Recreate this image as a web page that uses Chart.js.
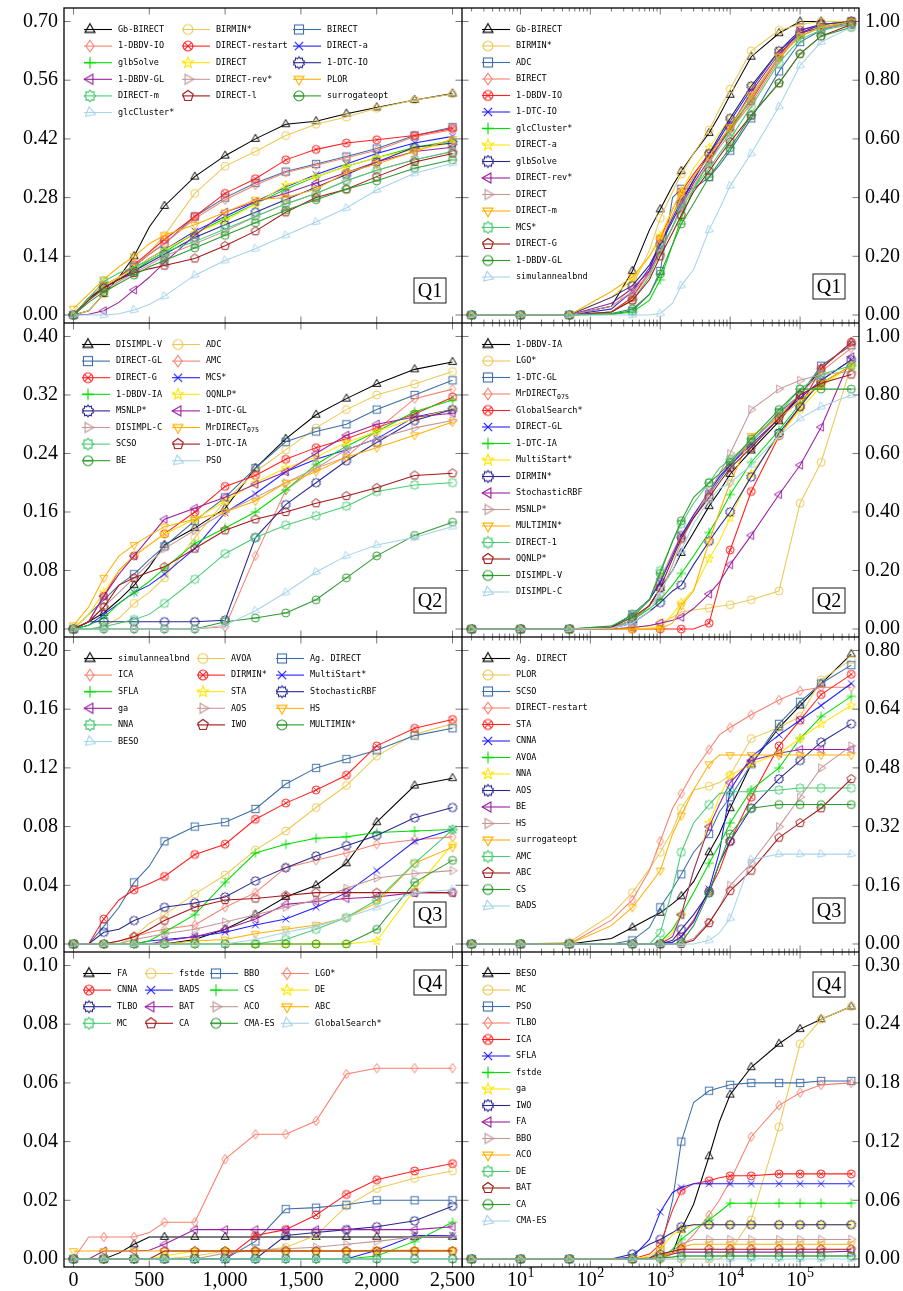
<!DOCTYPE html>
<html>
<head>
<meta charset="utf-8">
<script src="https://cdn.jsdelivr.net/npm/chart.js@4.4.1/dist/chart.umd.min.js"></script>
<style>
  html, body { margin: 0; padding: 0; background: #fff; }
  #page { position: relative; width: 903px; height: 1291px; overflow: hidden; }
  .panel { position: absolute; }
</style>
</head>
<body>
<div id="page"></div>
<script>
// shared x grids (left: linear budget, right: log budget)
const XL = [0, 100, 200, 300, 400, 500, 600, 800, 1000, 1200, 1400, 1600, 1800, 2000, 2250, 2500];
const XR = [2, 10, 50, 200, 400, 700, 1000, 1500, 2000, 3000, 5000, 7000, 10000, 20000, 50000, 100000, 200000, 540000];
const XL_TICKS = [0, 500, 1000, 1500, 2000, 2500];
const XR_EXPONENTS = [1, 2, 3, 4, 5];

const Q1L_TICKS = [0, 0.14, 0.28, 0.42, 0.56, 0.70];
const Q1R_TICKS = [0, 0.2, 0.4, 0.6, 0.8, 1.0];
const Q2L_TICKS = [0, 0.08, 0.16, 0.24, 0.32, 0.40];
const Q2R_TICKS = [0, 0.2, 0.4, 0.6, 0.8, 1.0];
const Q3L_TICKS = [0, 0.04, 0.08, 0.12, 0.16, 0.20];
const Q3R_TICKS = [0, 0.16, 0.32, 0.48, 0.64, 0.80];
const Q4L_TICKS = [0, 0.02, 0.04, 0.06, 0.08, 0.10];
const Q4R_TICKS = [0, 0.06, 0.12, 0.18, 0.24, 0.30];

// ---- Q1 ----
const Q1L_NAMES = ['Gb-BIRECT', 'BIRMIN*', 'BIRECT', '1-DBDV-IO', 'DIRECT-restart', 'DIRECT-a', 'glbSolve', 'DIRECT',
  '1-DTC-IO', '1-DBDV-GL', 'DIRECT-rev*', 'PLOR', 'DIRECT-m', 'DIRECT-l', 'surrogateopt', 'glcCluster*'];
const Q1L_Y = [
  [0, 0.01, 0.05, 0.09, 0.14, 0.21, 0.26, 0.33, 0.38, 0.42, 0.455, 0.462, 0.48, 0.495, 0.513, 0.528],
  [0, 0.01, 0.05, 0.08, 0.115, 0.15, 0.19, 0.29, 0.355, 0.39, 0.428, 0.455, 0.472, 0.493, 0.513, 0.527],
  [0, 0.04, 0.07, 0.09, 0.115, 0.145, 0.17, 0.235, 0.28, 0.315, 0.342, 0.36, 0.378, 0.397, 0.428, 0.448],
  [0, 0.04, 0.07, 0.09, 0.115, 0.145, 0.17, 0.23, 0.275, 0.31, 0.34, 0.357, 0.375, 0.393, 0.425, 0.442],
  [0, 0.04, 0.07, 0.09, 0.12, 0.15, 0.18, 0.235, 0.29, 0.325, 0.37, 0.395, 0.41, 0.418, 0.428, 0.445],
  [0, 0.04, 0.065, 0.085, 0.11, 0.135, 0.155, 0.2, 0.235, 0.27, 0.305, 0.335, 0.36, 0.385, 0.41, 0.426],
  [0, 0.04, 0.065, 0.085, 0.105, 0.13, 0.15, 0.195, 0.23, 0.265, 0.3, 0.33, 0.355, 0.375, 0.4, 0.415],
  [0, 0.04, 0.07, 0.09, 0.11, 0.135, 0.155, 0.195, 0.225, 0.265, 0.31, 0.33, 0.355, 0.375, 0.395, 0.41],
  [0, 0.04, 0.065, 0.085, 0.105, 0.125, 0.145, 0.185, 0.215, 0.245, 0.275, 0.305, 0.335, 0.365, 0.4, 0.41],
  [0, 0.002, 0.01, 0.03, 0.06, 0.09, 0.125, 0.19, 0.245, 0.27, 0.29, 0.315, 0.34, 0.365, 0.39, 0.4],
  [0, 0.035, 0.06, 0.08, 0.1, 0.12, 0.14, 0.17, 0.2, 0.235, 0.265, 0.29, 0.32, 0.345, 0.37, 0.39],
  [0.015, 0.05, 0.085, 0.115, 0.14, 0.17, 0.19, 0.215, 0.245, 0.275, 0.28, 0.3, 0.34, 0.36, 0.39, 0.42],
  [0, 0.04, 0.08, 0.1, 0.115, 0.13, 0.15, 0.175, 0.205, 0.235, 0.265, 0.29, 0.32, 0.345, 0.37, 0.39],
  [0, 0.035, 0.065, 0.085, 0.1, 0.11, 0.118, 0.135, 0.165, 0.2, 0.245, 0.28, 0.3, 0.33, 0.365, 0.385],
  [0, 0.03, 0.055, 0.075, 0.095, 0.115, 0.13, 0.16, 0.19, 0.22, 0.25, 0.275, 0.3, 0.32, 0.35, 0.37],
  [0, 0, 0, 0.003, 0.012, 0.025, 0.045, 0.095, 0.13, 0.158, 0.19, 0.222, 0.255, 0.298, 0.338, 0.362]
];
const Q1R_NAMES = ['Gb-BIRECT', 'BIRMIN*', 'ADC', 'BIRECT', '1-DBDV-IO', '1-DTC-IO', 'glcCluster*', 'DIRECT-a',
  'glbSolve', 'DIRECT-rev*', 'DIRECT', 'DIRECT-m', 'MCS*', 'DIRECT-G', '1-DBDV-GL', 'simulannealbnd'];
const Q1R_Y = [
  [0, 0, 0, 0.03, 0.15, 0.29, 0.36, 0.44, 0.49, 0.55, 0.62, 0.68, 0.75, 0.88, 0.96, 1, 1, 1],
  [0, 0, 0, 0.02, 0.1, 0.22, 0.33, 0.42, 0.48, 0.55, 0.63, 0.7, 0.77, 0.9, 0.97, 0.99, 1, 1],
  [0, 0, 0, 0.003, 0.014, 0.07, 0.15, 0.4, 0.43, 0.43, 0.47, 0.51, 0.56, 0.67, 0.83, 0.93, 0.97, 1],
  [0, 0, 0, 0.01, 0.06, 0.14, 0.24, 0.34, 0.41, 0.47, 0.54, 0.58, 0.63, 0.72, 0.87, 0.96, 0.99, 1],
  [0, 0, 0, 0.01, 0.06, 0.15, 0.26, 0.36, 0.42, 0.48, 0.55, 0.59, 0.64, 0.73, 0.88, 0.97, 0.99, 1],
  [0, 0, 0, 0.02, 0.08, 0.16, 0.24, 0.33, 0.39, 0.46, 0.55, 0.6, 0.66, 0.77, 0.9, 0.97, 0.99, 1],
  [0, 0, 0, 0.002, 0.01, 0.05, 0.12, 0.24, 0.33, 0.43, 0.52, 0.58, 0.63, 0.74, 0.88, 0.95, 0.98, 1],
  [0, 0, 0, 0.06, 0.12, 0.2, 0.27, 0.36, 0.42, 0.5, 0.57, 0.62, 0.67, 0.78, 0.9, 0.96, 0.99, 1],
  [0, 0, 0, 0.06, 0.1, 0.17, 0.24, 0.32, 0.38, 0.46, 0.55, 0.61, 0.67, 0.78, 0.9, 0.96, 0.99, 1],
  [0, 0, 0, 0.04, 0.09, 0.15, 0.22, 0.3, 0.37, 0.45, 0.53, 0.58, 0.64, 0.76, 0.89, 0.96, 0.98, 0.99],
  [0, 0, 0, 0.03, 0.08, 0.14, 0.21, 0.3, 0.37, 0.44, 0.52, 0.57, 0.62, 0.74, 0.88, 0.95, 0.98, 0.99],
  [0, 0, 0, 0.08, 0.13, 0.2, 0.26, 0.34, 0.4, 0.47, 0.54, 0.59, 0.64, 0.75, 0.88, 0.95, 0.98, 1],
  [0, 0, 0, 0.01, 0.05, 0.13, 0.22, 0.3, 0.36, 0.43, 0.5, 0.55, 0.6, 0.71, 0.86, 0.94, 0.97, 0.99],
  [0, 0, 0, 0.01, 0.05, 0.12, 0.2, 0.28, 0.34, 0.42, 0.49, 0.54, 0.59, 0.68, 0.79, 0.89, 0.95, 0.99],
  [0, 0, 0, 0.005, 0.02, 0.07, 0.14, 0.24, 0.31, 0.38, 0.47, 0.52, 0.57, 0.68, 0.79, 0.89, 0.95, 0.98],
  [0, 0, 0, 0, 0, 0, 0.005, 0.04, 0.1, 0.155, 0.29, 0.36, 0.44, 0.55, 0.71, 0.85, 0.93, 0.98]
];

// ---- Q2 ----
const Q2L_NAMES = ['DISIMPL-V', 'ADC', 'DIRECT-GL', 'AMC', 'DIRECT-G', 'MCS*', '1-DBDV-IA', 'OQNLP*',
  'MSNLP*', '1-DTC-GL', 'DISIMPL-C', 'MrDIRECT_075', 'SCSO', '1-DTC-IA', 'BE', 'PSO'];
const Q2L_Y = [
  [0, 0.01, 0.022, 0.04, 0.06, 0.085, 0.115, 0.138, 0.165, 0.22, 0.26, 0.293, 0.315, 0.335, 0.355, 0.365],
  [0, 0, 0.003, 0.015, 0.035, 0.05, 0.07, 0.125, 0.175, 0.215, 0.245, 0.275, 0.3, 0.32, 0.335, 0.352],
  [0, 0.02, 0.04, 0.06, 0.075, 0.095, 0.113, 0.148, 0.18, 0.22, 0.256, 0.27, 0.28, 0.3, 0.32, 0.34],
  [0, 0, 0, 0, 0, 0, 0, 0, 0.003, 0.1, 0.19, 0.22, 0.235, 0.272, 0.315, 0.328],
  [0, 0.01, 0.045, 0.08, 0.1, 0.115, 0.13, 0.16, 0.195, 0.21, 0.232, 0.248, 0.26, 0.275, 0.294, 0.317],
  [0, 0.005, 0.02, 0.035, 0.05, 0.06, 0.075, 0.11, 0.159, 0.185, 0.215, 0.232, 0.245, 0.26, 0.29, 0.3],
  [0, 0.005, 0.015, 0.035, 0.05, 0.065, 0.083, 0.117, 0.138, 0.16, 0.19, 0.225, 0.25, 0.27, 0.297, 0.313],
  [0, 0.02, 0.05, 0.08, 0.1, 0.115, 0.13, 0.15, 0.175, 0.2, 0.22, 0.235, 0.255, 0.27, 0.288, 0.3],
  [0, 0.01, 0.01, 0.01, 0.01, 0.01, 0.01, 0.01, 0.012, 0.125, 0.17, 0.2, 0.23, 0.255, 0.285, 0.3],
  [0, 0.01, 0.045, 0.075, 0.1, 0.125, 0.15, 0.165, 0.18, 0.198, 0.215, 0.24, 0.265, 0.28, 0.29, 0.295],
  [0, 0.01, 0.03, 0.05, 0.07, 0.09, 0.11, 0.135, 0.16, 0.18, 0.2, 0.22, 0.245, 0.26, 0.275, 0.285],
  [0.005, 0.03, 0.07, 0.1, 0.115, 0.128, 0.14, 0.15, 0.16, 0.175, 0.2, 0.215, 0.235, 0.248, 0.265, 0.283],
  [0, 0, 0.003, 0.008, 0.013, 0.02, 0.035, 0.068, 0.103, 0.125, 0.142, 0.155, 0.168, 0.188, 0.197, 0.2],
  [0, 0.01, 0.03, 0.06, 0.07, 0.078, 0.085, 0.11, 0.135, 0.15, 0.16, 0.172, 0.182, 0.193, 0.21, 0.213],
  [0, 0, 0, 0, 0, 0, 0, 0, 0.01, 0.015, 0.022, 0.04, 0.07, 0.1, 0.128, 0.146],
  [0, 0, 0, 0, 0, 0, 0, 0, 0.005, 0.025, 0.05, 0.078, 0.1, 0.115, 0.125, 0.14]
];
const Q2R_NAMES = ['1-DBDV-IA', 'LGO*', '1-DTC-GL', 'MrDIRECT_075', 'GlobalSearch*', 'DIRECT-GL', '1-DTC-IA', 'MultiStart*',
  'DIRMIN*', 'StochasticRBF', 'MSNLP*', 'MULTIMIN*', 'DIRECT-1', 'OQNLP*', 'DISIMPL-V', 'DISIMPL-C'];
const Q2R_Y = [
  [0, 0, 0, 0.003, 0.03, 0.08, 0.14, 0.2, 0.26, 0.33, 0.42, 0.47, 0.53, 0.61, 0.71, 0.8, 0.89, 0.98],
  [0, 0, 0, 0, 0.005, 0.01, 0.02, 0.04, 0.058, 0.065, 0.072, 0.078, 0.083, 0.1, 0.13, 0.43, 0.57, 0.9],
  [0, 0, 0, 0.005, 0.05, 0.1, 0.16, 0.26, 0.32, 0.38, 0.46, 0.51, 0.56, 0.64, 0.74, 0.8, 0.9, 0.97],
  [0, 0, 0, 0.005, 0.05, 0.1, 0.17, 0.26, 0.32, 0.39, 0.46, 0.52, 0.57, 0.64, 0.73, 0.8, 0.88, 0.96],
  [0, 0, 0, 0, 0, 0, 0, 0, 0, 0, 0.02, 0.15, 0.27, 0.47, 0.66, 0.76, 0.89, 0.98],
  [0, 0, 0, 0.005, 0.05, 0.1, 0.16, 0.25, 0.32, 0.39, 0.47, 0.52, 0.56, 0.63, 0.72, 0.79, 0.85, 0.92],
  [0, 0, 0, 0.003, 0.03, 0.07, 0.1, 0.15, 0.19, 0.25, 0.33, 0.39, 0.46, 0.57, 0.68, 0.77, 0.84, 0.9],
  [0, 0, 0, 0, 0, 0.003, 0.005, 0.05, 0.09, 0.135, 0.24, 0.3, 0.38, 0.53, 0.66, 0.75, 0.83, 0.9],
  [0, 0, 0, 0.003, 0.02, 0.06, 0.09, 0.13, 0.15, 0.22, 0.3, 0.35, 0.4, 0.52, 0.67, 0.76, 0.85, 0.92],
  [0, 0, 0, 0, 0.005, 0.012, 0.02, 0.03, 0.04, 0.07, 0.12, 0.16, 0.22, 0.32, 0.46, 0.56, 0.69, 0.93],
  [0, 0, 0, 0.003, 0.03, 0.08, 0.12, 0.22, 0.3, 0.38, 0.47, 0.53, 0.6, 0.75, 0.82, 0.85, 0.87, 0.88],
  [0, 0, 0, 0, 0, 0, 0.002, 0.02, 0.08, 0.13, 0.3, 0.4, 0.5, 0.66, 0.72, 0.78, 0.84, 0.9],
  [0, 0, 0, 0.01, 0.05, 0.1, 0.2, 0.3, 0.36, 0.43, 0.5, 0.55, 0.58, 0.64, 0.74, 0.82, 0.87, 0.9],
  [0, 0, 0, 0.005, 0.04, 0.08, 0.14, 0.24, 0.31, 0.38, 0.45, 0.5, 0.55, 0.62, 0.72, 0.8, 0.84, 0.87],
  [0, 0, 0, 0.01, 0.04, 0.1, 0.19, 0.3, 0.37, 0.45, 0.5, 0.53, 0.57, 0.65, 0.75, 0.82, 0.82, 0.82],
  [0, 0, 0, 0.003, 0.02, 0.06, 0.13, 0.2, 0.27, 0.36, 0.44, 0.48, 0.5, 0.56, 0.66, 0.72, 0.76, 0.8]
];

// ---- Q3 ----
const Q3L_NAMES = ['simulannealbnd', 'AVOA', 'Ag. DIRECT', 'ICA', 'DIRMIN*', 'MultiStart*', 'SFLA', 'STA',
  'StochasticRBF', 'ga', 'AOS', 'HS', 'NNA', 'IWO', 'MULTIMIN*', 'BESO'];
const Q3L_Y = [
  [0, 0, 0, 0, 0, 0, 0, 0.003, 0.01, 0.02, 0.032, 0.04, 0.055, 0.083, 0.108, 0.113],
  [0, 0, 0, 0, 0.005, 0.014, 0.02, 0.034, 0.047, 0.064, 0.077, 0.093, 0.108, 0.128, 0.143, 0.15],
  [0, 0, 0.012, 0.025, 0.042, 0.053, 0.07, 0.08, 0.083, 0.092, 0.109, 0.12, 0.126, 0.132, 0.142, 0.147],
  [0, 0, 0, 0.002, 0.005, 0.008, 0.01, 0.013, 0.025, 0.035, 0.052, 0.057, 0.062, 0.068, 0.071, 0.073],
  [0, 0, 0.017, 0.03, 0.037, 0.041, 0.046, 0.061, 0.068, 0.085, 0.096, 0.105, 0.115, 0.135, 0.147, 0.153],
  [0, 0, 0, 0, 0, 0.002, 0.003, 0.005, 0.008, 0.013, 0.017, 0.025, 0.035, 0.05, 0.07, 0.078],
  [0, 0, 0, 0, 0, 0.002, 0.008, 0.02, 0.042, 0.062, 0.068, 0.072, 0.073, 0.076, 0.077, 0.078],
  [0, 0, 0, 0, 0, 0, 0, 0, 0, 0, 0, 0, 0, 0.002, 0.037, 0.068],
  [0, 0, 0.008, 0.01, 0.016, 0.02, 0.025, 0.028, 0.032, 0.043, 0.052, 0.06, 0.067, 0.074, 0.086, 0.093],
  [0, 0, 0, 0, 0, 0, 0.002, 0.005, 0.01, 0.017, 0.027, 0.029, 0.031, 0.032, 0.035, 0.035],
  [0, 0, 0, 0, 0.003, 0.005, 0.007, 0.01, 0.015, 0.02, 0.025, 0.03, 0.038, 0.045, 0.048, 0.05],
  [0, 0, 0, 0, 0, 0, 0, 0.002, 0.003, 0.007, 0.01, 0.013, 0.018, 0.028, 0.055, 0.066],
  [0, 0, 0, 0, 0, 0, 0, 0, 0, 0, 0.003, 0.01, 0.018, 0.03, 0.055, 0.078],
  [0, 0, 0, 0.002, 0.005, 0.01, 0.016, 0.025, 0.03, 0.031, 0.033, 0.035, 0.035, 0.035, 0.035, 0.035],
  [0, 0, 0, 0, 0, 0, 0, 0, 0, 0, 0, 0, 0, 0.01, 0.042, 0.057],
  [0, 0, 0, 0, 0, 0, 0, 0, 0, 0.003, 0.008, 0.012, 0.018, 0.025, 0.035, 0.037]
];
const Q3R_NAMES = ['Ag. DIRECT', 'PLOR', 'SCSO', 'DIRECT-restart', 'STA', 'CNNA', 'AVOA', 'NNA',
  'AOS', 'BE', 'HS', 'surrogateopt', 'AMC', 'ABC', 'CS', 'BADS'];
const Q3R_Y = [
  [0, 0, 0, 0.015, 0.045, 0.07, 0.085, 0.11, 0.13, 0.17, 0.25, 0.3, 0.37, 0.49, 0.59, 0.65, 0.71, 0.79],
  [0, 0, 0.005, 0.08, 0.14, 0.205, 0.25, 0.31, 0.37, 0.42, 0.43, 0.44, 0.46, 0.56, 0.59, 0.62, 0.72, 0.775],
  [0, 0, 0, 0, 0.01, 0.045, 0.1, 0.15, 0.19, 0.25, 0.3, 0.36, 0.4, 0.49, 0.6, 0.66, 0.71, 0.76],
  [0, 0, 0, 0.065, 0.12, 0.2, 0.28, 0.37, 0.41, 0.47, 0.53, 0.57, 0.59, 0.625, 0.665, 0.69, 0.7, 0.7],
  [0, 0, 0, 0, 0, 0, 0, 0.005, 0.02, 0.065, 0.145, 0.2, 0.28, 0.4, 0.54, 0.61, 0.68, 0.735],
  [0, 0, 0, 0, 0, 0, 0, 0.005, 0.02, 0.06, 0.15, 0.25, 0.42, 0.51, 0.57, 0.61, 0.65, 0.71],
  [0, 0, 0, 0, 0, 0, 0.005, 0.04, 0.08, 0.14, 0.22, 0.27, 0.33, 0.42, 0.48, 0.56, 0.62, 0.675],
  [0, 0, 0, 0, 0, 0, 0, 0.03, 0.08, 0.2, 0.33, 0.4, 0.46, 0.49, 0.52, 0.56, 0.6, 0.65],
  [0, 0, 0, 0, 0, 0, 0, 0.01, 0.04, 0.08, 0.14, 0.22, 0.28, 0.37, 0.45, 0.5, 0.55, 0.6],
  [0, 0, 0, 0, 0, 0, 0, 0.02, 0.08, 0.2, 0.32, 0.38, 0.44, 0.5, 0.52, 0.53, 0.53, 0.53],
  [0, 0, 0, 0, 0, 0, 0, 0, 0.003, 0.015, 0.06, 0.1, 0.16, 0.22, 0.32, 0.4, 0.48, 0.54],
  [0, 0, 0, 0.05, 0.1, 0.16, 0.2, 0.3, 0.35, 0.42, 0.49, 0.515, 0.515, 0.515, 0.515, 0.515, 0.515, 0.515],
  [0, 0, 0, 0, 0, 0, 0.03, 0.15, 0.25, 0.33, 0.38, 0.41, 0.415, 0.415, 0.42, 0.425, 0.425, 0.425],
  [0, 0, 0, 0, 0, 0, 0, 0, 0, 0.01, 0.057, 0.1, 0.145, 0.2, 0.29, 0.33, 0.37, 0.45],
  [0, 0, 0, 0, 0, 0, 0, 0, 0.005, 0.05, 0.14, 0.22, 0.3, 0.37, 0.38, 0.38, 0.38, 0.38],
  [0, 0, 0, 0, 0, 0, 0, 0, 0, 0, 0.01, 0.03, 0.07, 0.23, 0.245, 0.245, 0.245, 0.245]
];

// ---- Q4 ----
const Q4L_NAMES = ['FA', 'fstde', 'BBO', 'LGO*', 'CNNA', 'BADS', 'CS', 'DE',
  'TLBO', 'BAT', 'ACO', 'ABC', 'MC', 'CA', 'CMA-ES', 'GlobalSearch*'];
const Q4L_Y = [
  [0, 0, 0, 0.002, 0.005, 0.0075, 0.0075, 0.0075, 0.0075, 0.0075, 0.0075, 0.0075, 0.0075, 0.0075, 0.0075, 0.0075],
  [0, 0, 0, 0, 0, 0, 0, 0.001, 0.0027, 0.0027, 0.004, 0.008, 0.018, 0.024, 0.0275, 0.03],
  [0, 0, 0, 0, 0, 0, 0, 0, 0, 0.006, 0.017, 0.0175, 0.0185, 0.02, 0.02, 0.02],
  [0, 0.0075, 0.0075, 0.0075, 0.0075, 0.009, 0.0125, 0.0125, 0.034, 0.0425, 0.0425, 0.047, 0.063, 0.065, 0.065, 0.065],
  [0, 0, 0, 0, 0, 0, 0, 0, 0, 0.008, 0.01, 0.015, 0.022, 0.027, 0.03, 0.0325],
  [0, 0, 0, 0, 0, 0, 0, 0, 0, 0, 0, 0, 0, 0.003, 0.008, 0.008],
  [0, 0, 0, 0, 0, 0, 0, 0, 0, 0, 0, 0, 0, 0.001, 0.006, 0.0125],
  [0, 0, 0, 0, 0, 0, 0.001, 0.0027, 0.0027, 0.0027, 0.0027, 0.0027, 0.0027, 0.0027, 0.0027, 0.0027],
  [0, 0, 0, 0, 0, 0, 0, 0, 0, 0, 0.008, 0.009, 0.01, 0.011, 0.013, 0.018],
  [0, 0, 0.0027, 0.0027, 0.0027, 0.003, 0.005, 0.01, 0.01, 0.01, 0.01, 0.01, 0.01, 0.01, 0.01, 0.011],
  [0, 0, 0, 0, 0, 0, 0, 0, 0.002, 0.003, 0.0035, 0.004, 0.005, 0.006, 0.0075, 0.0078],
  [0.0027, 0.0027, 0.0027, 0.0027, 0.0027, 0.0027, 0.0027, 0.0027, 0.0027, 0.0027, 0.0027, 0.0027, 0.0027, 0.003, 0.003, 0.003],
  [0, 0, 0, 0, 0, 0, 0, 0, 0, 0, 0, 0, 0, 0, 0, 0],
  [0, 0, 0, 0, 0, 0, 0.0027, 0.0027, 0.0027, 0.0027, 0.0027, 0.0027, 0.0027, 0.0027, 0.0027, 0.0027],
  [0, 0, 0, 0, 0, 0, 0, 0, 0, 0, 0, 0, 0, 0, 0, 0],
  [0, 0, 0, 0, 0, 0, 0, 0, 0, 0, 0, 0, 0, 0, 0, 0]
];
const Q4R_NAMES = ['BESO', 'MC', 'PSO', 'TLBO', 'ICA', 'SFLA', 'fstde', 'ga',
  'IWO', 'FA', 'BBO', 'ACO', 'DE', 'BAT', 'CA', 'CMA-ES'];
const Q4R_Y = [
  [0, 0, 0, 0, 0, 0, 0.002, 0.006, 0.03, 0.056, 0.105, 0.14, 0.168, 0.196, 0.22, 0.235, 0.245, 0.258],
  [0, 0, 0, 0, 0, 0, 0, 0, 0, 0, 0, 0, 0.008, 0.04, 0.135, 0.22, 0.245, 0.258],
  [0, 0, 0, 0, 0, 0.001, 0.008, 0.06, 0.12, 0.16, 0.172, 0.175, 0.178, 0.18, 0.18, 0.18, 0.182, 0.182],
  [0, 0, 0, 0, 0, 0, 0, 0.005, 0.012, 0.025, 0.045, 0.06, 0.08, 0.125, 0.157, 0.17, 0.178, 0.18],
  [0, 0, 0, 0, 0, 0.005, 0.015, 0.05, 0.07, 0.077, 0.08, 0.083, 0.085, 0.085, 0.087, 0.087, 0.087, 0.087],
  [0, 0, 0, 0, 0.002, 0.02, 0.048, 0.068, 0.073, 0.077, 0.077, 0.077, 0.077, 0.077, 0.077, 0.077, 0.077, 0.077],
  [0, 0, 0, 0, 0, 0, 0, 0.01, 0.02, 0.03, 0.04, 0.048, 0.057, 0.057, 0.057, 0.057, 0.057, 0.057],
  [0, 0, 0, 0, 0, 0.003, 0.01, 0.025, 0.03, 0.035, 0.035, 0.035, 0.035, 0.035, 0.035, 0.035, 0.035, 0.035],
  [0, 0, 0, 0, 0.005, 0.015, 0.02, 0.027, 0.033, 0.035, 0.035, 0.035, 0.035, 0.035, 0.035, 0.035, 0.035, 0.035],
  [0, 0, 0, 0, 0, 0, 0.002, 0.005, 0.007, 0.007, 0.007, 0.007, 0.007, 0.007, 0.007, 0.007, 0.007, 0.008],
  [0, 0, 0, 0, 0, 0, 0.003, 0.008, 0.015, 0.02, 0.02, 0.02, 0.02, 0.02, 0.02, 0.02, 0.02, 0.02],
  [0, 0, 0, 0, 0, 0, 0.002, 0.006, 0.012, 0.015, 0.015, 0.015, 0.015, 0.015, 0.015, 0.015, 0.015, 0.015],
  [0, 0, 0, 0, 0, 0, 0.001, 0.002, 0.003, 0.003, 0.003, 0.003, 0.003, 0.003, 0.003, 0.003, 0.003, 0.003],
  [0, 0, 0, 0, 0, 0.001, 0.005, 0.008, 0.01, 0.01, 0.01, 0.01, 0.01, 0.01, 0.01, 0.01, 0.01, 0.01],
  [0, 0, 0, 0, 0, 0, 0.001, 0.002, 0.003, 0.003, 0.003, 0.003, 0.003, 0.003, 0.003, 0.003, 0.003, 0.003],
  [0, 0, 0, 0, 0, 0, 0, 0, 0, 0, 0, 0, 0, 0, 0, 0, 0, 0]
];

// cycle list: marker shape + colour, same order in every panel
const STYLES = [
  ['tri', '#000000'], ['circ', '#ecc955'], ['sq', '#3c6ea8'], ['dia', '#f8806e'],
  ['otimes', '#ff2020'], ['x', '#1f1fff'], ['plus', '#00dd00'], ['star5', '#ffe600'],
  ['star10', '#28288f'], ['triL', '#9a1fa0'], ['triR', '#c49696'], ['triD', '#ffb000'],
  ['star8', '#48cc72'], ['pent', '#a01818'], ['ominus', '#2e9a2e'], ['triR2', '#a6d3e8']
];

function makeMarker(shape, color, r, lw) {
  const s = Math.ceil(2 * r + 2 * lw + 2);
  const c = document.createElement('canvas');
  c.width = s; c.height = s;
  const g = c.getContext('2d');
  g.translate(s / 2, s / 2);
  g.strokeStyle = color;
  g.lineWidth = lw;
  const poly = (n, rad, rot) => {
    g.beginPath();
    for (let k = 0; k < n; k++) {
      const a = rot + k * 2 * Math.PI / n;
      g.lineTo(rad * Math.cos(a), rad * Math.sin(a));
    }
    g.closePath(); g.stroke();
  };
  const star = (n, ro, ri) => {
    g.beginPath();
    for (let k = 0; k < 2 * n; k++) {
      const a = -Math.PI / 2 + k * Math.PI / n;
      const rr = k % 2 ? ri : ro;
      g.lineTo(rr * Math.cos(a), rr * Math.sin(a));
    }
    g.closePath(); g.stroke();
  };
  const line = (x1, y1, x2, y2) => { g.beginPath(); g.moveTo(x1, y1); g.lineTo(x2, y2); g.stroke(); };
  const circle = rad => { g.beginPath(); g.arc(0, 0, rad, 0, 2 * Math.PI); g.stroke(); };
  switch (shape) {
    case 'tri': poly(3, r, -Math.PI / 2); break;
    case 'circ': circle(r * 0.85); break;
    case 'sq': g.strokeRect(-r * 0.78, -r * 0.78, r * 1.56, r * 1.56); break;
    case 'dia':
      g.beginPath(); g.moveTo(0, -r); g.lineTo(r * 0.7, 0); g.lineTo(0, r); g.lineTo(-r * 0.7, 0);
      g.closePath(); g.stroke(); break;
    case 'otimes': {
      circle(r * 0.85); const d = r * 0.6;
      line(-d, -d, d, d); line(-d, d, d, -d); break;
    }
    case 'x': { const d = r * 0.72; line(-d, -d, d, d); line(-d, d, d, -d); break; }
    case 'plus': line(-r, 0, r, 0); line(0, -r, 0, r); break;
    case 'star5': star(5, r, r * 0.42); break;
    case 'star10': star(10, r, r * 0.76); break;
    case 'triL': poly(3, r, Math.PI); break;
    case 'triR': poly(3, r, 0); break;
    case 'triD': poly(3, r, Math.PI / 2); break;
    case 'star8': star(8, r, r * 0.72); break;
    case 'pent': poly(5, r * 0.95, -Math.PI / 2); break;
    case 'ominus': circle(r * 0.85); line(-r * 0.85, 0, r * 0.85, 0); break;
    case 'triR2': poly(3, r, 0.35); break;
  }
  return c;
}

const PLOT_MARKERS = STYLES.map(([s, c]) => makeMarker(s, c, 4.7, 0.95));
const LEG_MARKERS = STYLES.map(([s, c]) => makeMarker(s, c, 5.8, 1.1));

const ROW_TOP = [8, 323, 637, 952, 1267];
const LEFT_MARKS = new Set([0, 2, 4, 6, 7, 8, 9, 10, 11, 12, 13, 14, 15]);
const RIGHT_MARKS = new Set([0, 1, 2, 4, 6, 8, 10, 12, 13, 14, 15, 16, 17]);
const LOG_MIN = Math.pow(10, 0.164), LOG_MAX = Math.pow(10, 5.843);

const PANELS = [
  { row: 0, col: 0, names: Q1L_NAMES, ys: Q1L_Y, ticks: Q1L_TICKS, q: 'Q1', qTop: 270, legCols: [26, 124, 235] },
  { row: 0, col: 1, names: Q1R_NAMES, ys: Q1R_Y, ticks: Q1R_TICKS, q: 'Q1', qTop: 266, legCols: [26] },
  { row: 1, col: 0, names: Q2L_NAMES, ys: Q2L_Y, ticks: Q2L_TICKS, q: 'Q2', qTop: 265, legCols: [24, 114] },
  { row: 1, col: 1, names: Q2R_NAMES, ys: Q2R_Y, ticks: Q2R_TICKS, q: 'Q2', qTop: 265, legCols: [26] },
  { row: 2, col: 0, names: Q3L_NAMES, ys: Q3L_Y, ticks: Q3L_TICKS, q: 'Q3', qTop: 265, legCols: [26, 139, 218] },
  { row: 2, col: 1, names: Q3R_NAMES, ys: Q3R_Y, ticks: Q3R_TICKS, q: 'Q3', qTop: 261, legCols: [26] },
  { row: 3, col: 0, names: Q4L_NAMES, ys: Q4L_Y, ticks: Q4L_TICKS, q: 'Q4', qTop: 18, legCols: [25, 87, 152, 223] },
  { row: 3, col: 1, names: Q4R_NAMES, ys: Q4R_Y, ticks: Q4R_TICKS, q: 'Q4', qTop: 20, legCols: [26] }
];

function drawLegendLabel(ctx, text, x, y) {
  ctx.fillStyle = '#000';
  ctx.textAlign = 'left';
  ctx.textBaseline = 'middle';
  const parts = text.split('_');
  ctx.font = '8.5px "DejaVu Sans Mono"';
  ctx.fillText(parts[0], x, y);
  if (parts.length > 1) {
    const w = ctx.measureText(parts[0]).width;
    ctx.font = '6.6px "DejaVu Sans Mono"';
    ctx.fillText(parts[1], x + w, y + 3);
  }
}

const panelDecor = {
  id: 'panelDecor',
  afterDatasetsDraw(chart, args, opts) {
    const p = opts.panel;
    const { ctx, chartArea: ca, scales } = chart;
    ctx.save();

    // inward tick marks on all four sides
    ctx.strokeStyle = '#555';
    ctx.lineWidth = 0.8;
    ctx.beginPath();
    scales.x.ticks.forEach(t => {
      const px = scales.x.getPixelForValue(t.value);
      if (px < ca.left + 1 || px > ca.right - 1) return;
      const lg = Math.log10(t.value);
      const major = p.col === 0 || Math.abs(lg - Math.round(lg)) < 1e-6;
      const L = major ? 6.5 : 3.5;
      ctx.moveTo(px, ca.top); ctx.lineTo(px, ca.top + L);
      ctx.moveTo(px, ca.bottom); ctx.lineTo(px, ca.bottom - L);
    });
    scales.y.ticks.forEach(t => {
      const py = scales.y.getPixelForValue(t.value);
      ctx.moveTo(ca.left, py); ctx.lineTo(ca.left + 6.5, py);
      ctx.moveTo(ca.right, py); ctx.lineTo(ca.right - 6.5, py);
    });
    ctx.stroke();

    // frame
    ctx.strokeStyle = '#000';
    ctx.lineWidth = 1.3;
    ctx.strokeRect(ca.left, ca.top, ca.right - ca.left, ca.bottom - ca.top);

    // legend
    const nc = p.legCols.length;
    const step = nc === 1 ? 16.5 : 16.6;
    chart.data.datasets.forEach((ds, i) => {
      const c = i % nc, r = Math.floor(i / nc);
      const mx = ca.left + p.legCols[c];
      const my = ca.top + 21.5 + r * step;
      ctx.strokeStyle = ds.borderColor;
      ctx.lineWidth = 1.1;
      ctx.beginPath(); ctx.moveTo(mx - 6, my); ctx.lineTo(mx + 22, my); ctx.stroke();
      const mk = LEG_MARKERS[i];
      ctx.drawImage(mk, mx - mk.width / 2, my - mk.height / 2);
      drawLegendLabel(ctx, ds.label, mx + 28, my);
    });

    // quartile box
    const bw = 32, bh = 25;
    const bx = ca.right - (p.col === 0 ? 16 : 14) - bw;
    const by = ca.top + p.qTop;
    ctx.fillStyle = '#fff';
    ctx.fillRect(bx, by, bw, bh);
    ctx.strokeStyle = '#000';
    ctx.lineWidth = 0.9;
    ctx.strokeRect(bx, by, bw, bh);
    ctx.fillStyle = '#000';
    ctx.font = '20px "Liberation Serif"';
    ctx.textAlign = 'center';
    ctx.textBaseline = 'middle';
    ctx.fillText(p.q, bx + bw / 2, by + bh / 2 + 1);

    // x tick labels on the bottom row
    if (p.row === 3) {
      const base = ca.bottom + 19;
      ctx.textBaseline = 'alphabetic';
      if (p.col === 0) {
        ctx.textAlign = 'center';
        ctx.font = '20px "Liberation Serif"';
        XL_TICKS.forEach(v => {
          ctx.fillText(v.toLocaleString('en-US'), scales.x.getPixelForValue(v), base);
        });
      } else {
        XR_EXPONENTS.forEach(e => {
          const px = scales.x.getPixelForValue(Math.pow(10, e));
          ctx.font = '20px "Liberation Serif"';
          const w1 = ctx.measureText('10').width;
          ctx.font = '14px "Liberation Serif"';
          const w2 = ctx.measureText(String(e)).width;
          const x0 = px - (w1 + w2) / 2;
          ctx.textAlign = 'left';
          ctx.font = '20px "Liberation Serif"';
          ctx.fillText('10', x0, base);
          ctx.font = '14px "Liberation Serif"';
          ctx.fillText(String(e), x0 + w1 + 0.5, base - 9);
        });
      }
    }
    ctx.restore();
  }
};

function buildPanel(p) {
  const isLeft = p.col === 0;
  const bottom = p.row === 3;
  const top = ROW_TOP[p.row];
  const h = ROW_TOP[p.row + 1] - top;
  const padTop = p.row === 0 ? 3 : 0;
  const padRight = isLeft && bottom ? 30 : 0;
  const xAxisH = bottom ? 24 : 0;
  const left = isLeft ? 0 : 462;
  const width = (isLeft ? 462 : 441) + padRight;

  const div = document.createElement('div');
  div.className = 'panel';
  div.style.left = left + 'px';
  div.style.top = (top - padTop) + 'px';
  div.style.width = width + 'px';
  div.style.height = (h + padTop + xAxisH) + 'px';
  div.style.zIndex = isLeft ? 2 : 1;
  const canvas = document.createElement('canvas');
  div.appendChild(canvas);
  document.getElementById('page').appendChild(div);

  const xs = isLeft ? XL : XR;
  const marks = isLeft ? LEFT_MARKS : RIGHT_MARKS;
  const n = p.names.length;
  const datasets = p.names.map((name, i) => ({
    label: name,
    data: xs.map((x, k) => ({ x: x, y: p.ys[i][k] })),
    borderColor: STYLES[i][1],
    borderWidth: 1.05,
    pointStyle: PLOT_MARKERS[i],
    pointRadius: xs.map((_, k) => marks.has(k) ? 4 : 0),
    pointHoverRadius: 0,
    tension: 0,
    fill: false,
    order: n - i
  }));

  const M = p.ticks[p.ticks.length - 1];
  const yTicks = p.ticks;
  const xTickVals = [];
  if (isLeft) {
    XL_TICKS.forEach(v => xTickVals.push(v));
  } else {
    for (let e = 0; e <= 5; e++) {
      for (let m = 1; m <= 9; m++) {
        const v = m * Math.pow(10, e);
        if (v >= LOG_MIN && v <= LOG_MAX) xTickVals.push(v);
      }
    }
  }

  new Chart(canvas, {
    type: 'line',
    data: { datasets: datasets },
    options: {
      responsive: true,
      maintainAspectRatio: false,
      animation: false,
      events: [],
      layout: { autoPadding: false, padding: { top: padTop, right: padRight, left: 0, bottom: 0 } },
      plugins: {
        legend: { display: false },
        tooltip: { enabled: false },
        panelDecor: { panel: p }
      },
      scales: {
        x: {
          type: isLeft ? 'linear' : 'logarithmic',
          min: isLeft ? -62.5 : LOG_MIN,
          max: isLeft ? 2562.5 : LOG_MAX,
          display: bottom,
          grid: { display: false, drawTicks: false },
          border: { display: false },
          ticks: { display: false },
          afterBuildTicks: s => { s.ticks = xTickVals.map(v => ({ value: v })); },
          afterFit: s => {
            s.height = xAxisH;
            s.paddingLeft = 0; s.paddingRight = 0;
          }
        },
        y: {
          type: 'linear',
          position: isLeft ? 'left' : 'right',
          min: -0.0273 * M,
          max: 1.046 * M,
          grid: { display: false, drawTicks: false },
          border: { display: false },
          ticks: {
            autoSkip: false,
            padding: 6,
            color: '#000',
            font: { family: '"Liberation Serif"', size: 20 },
            callback: v => Number(v).toFixed(2)
          },
          afterBuildTicks: s => { s.ticks = yTicks.map(v => ({ value: v })); },
          afterFit: s => {
            s.width = isLeft ? 64 : 44;
            s.paddingTop = 0; s.paddingBottom = 0;
          }
        }
      }
    },
    plugins: [panelDecor]
  });
}

PANELS.forEach(buildPanel);
</script>
</body>
</html>
